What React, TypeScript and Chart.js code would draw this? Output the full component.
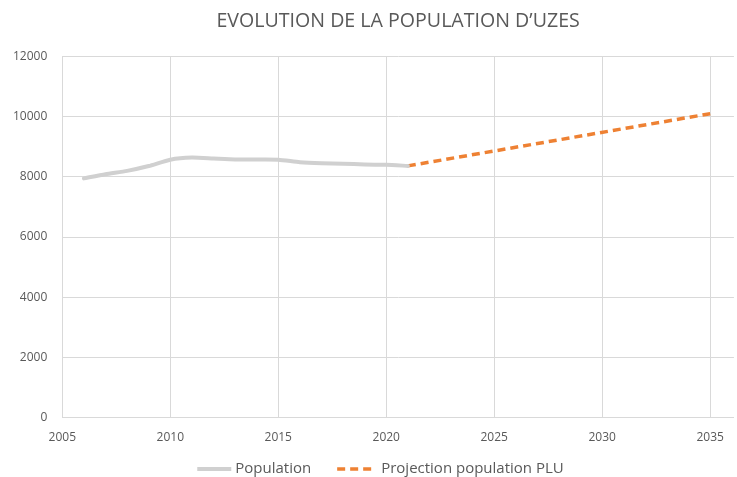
import React, { useEffect, useRef } from "react";
import { Chart, registerables } from "chart.js";

Chart.register(...registerables);

const populationYears = [2006, 2007, 2008, 2009, 2010, 2011, 2012, 2013, 2014, 2015, 2016, 2017, 2018, 2019, 2020, 2021];
const populationValues = [7950, 8090, 8200, 8360, 8570, 8640, 8610, 8580, 8575, 8570, 8490, 8455, 8440, 8410, 8400, 8365];
const projectionYears = [2021, 2035];
const projectionValues = [8365, 10100];
const xTickYears = [2005, 2010, 2015, 2020, 2025, 2030, 2035];

const TEXT = "#595959";
const GRID = "#D9D9D9";
const FONT = "'Open Sans', 'Liberation Sans', sans-serif";

const bottomLegend = {
  id: "bottomLegend",
  afterDraw(chart: any) {
    const ctx = chart.ctx;
    const datasets = chart.data.datasets;
    const fontSize = 15;
    const lineW = 34;
    const gapLine = [4, 10];
    const gapItem = 26;
    ctx.save();
    ctx.font = `${fontSize}px ${FONT}`;
    const widths = datasets.map((d: any) => ctx.measureText(d.label).width);
    let total = 0;
    datasets.forEach((d: any, i: number) => {
      total += lineW + gapLine[i] + widths[i];
      if (i < datasets.length - 1) total += gapItem;
    });
    let x = chart.width / 2 + 12 - total / 2;
    const y = chart.height - 8;
    datasets.forEach((d: any, i: number) => {
      ctx.beginPath();
      ctx.strokeStyle = d.borderColor;
      ctx.lineWidth = d.borderWidth;
      ctx.setLineDash(d.borderDash || []);
      ctx.lineCap = "butt";
      ctx.moveTo(x, y);
      ctx.lineTo(x + lineW, y);
      ctx.stroke();
      ctx.setLineDash([]);
      x += lineW + gapLine[i];
      ctx.fillStyle = TEXT;
      ctx.textBaseline = "middle";
      ctx.textAlign = "left";
      ctx.fillText(d.label, x, y);
      x += widths[i] + gapItem;
    });
    ctx.restore();
  },
};

export default function App() {
  const ref = useRef<HTMLCanvasElement | null>(null);

  useEffect(() => {
    document.body.style.margin = "0";
    const canvas = ref.current;
    if (!canvas) return;
    const chart = new Chart(canvas, {
      type: "line",
      data: {
        datasets: [
          {
            label: "Population",
            data: populationYears.map((x, i) => ({ x, y: populationValues[i] })),
            borderColor: "#D0D0D0",
            backgroundColor: "#D0D0D0",
            borderWidth: 4,
            pointRadius: 0,
            tension: 0.2,
            borderCapStyle: "round",
          },
          {
            label: "Projection population PLU",
            data: projectionYears.map((x, i) => ({ x, y: projectionValues[i] })),
            borderColor: "#EE8133",
            backgroundColor: "#EE8133",
            borderWidth: 3.5,
            borderDash: [8, 5],
            pointRadius: 0,
          },
        ],
      },
      options: {
        responsive: false,
        animation: false,
        layout: { padding: { left: -2, right: 0, top: 0, bottom: 19 } },
        plugins: {
          title: {
            display: true,
            fullSize: false,
            text: "EVOLUTION DE LA POPULATION D\u2019UZES",
            color: TEXT,
            font: { family: FONT, size: 19.6, weight: "normal" },
            padding: { top: 10, bottom: 23 },
          },
          legend: { display: false },
          tooltip: { enabled: false },
        },
        scales: {
          x: {
            type: "linear",
            min: 2005,
            max: 2036.1,
            afterBuildTicks: (axis: any) => {
              axis.ticks = xTickYears.map((v) => ({ value: v }));
            },
            ticks: {
              color: TEXT,
              font: { family: FONT, size: 12 },
              maxRotation: 0,
              autoSkip: false,
              padding: 13,
              callback: (v: any) => String(v),
            },
            grid: { color: GRID, drawTicks: false },
            border: { color: GRID },
          },
          y: {
            min: 0,
            max: 12000,
            ticks: {
              stepSize: 2000,
              color: TEXT,
              font: { family: FONT, size: 12 },
              padding: 15,
              callback: (v: any) => String(v),
            },
            grid: { color: GRID, drawTicks: false },
            border: { color: GRID },
          },
        },
      },
      plugins: [bottomLegend],
    });
    return () => chart.destroy();
  }, []);

  return (
    <div style={{ width: 737, height: 477, background: "#fff" }}>
      <canvas ref={ref} width={737} height={477} />
    </div>
  );
}
